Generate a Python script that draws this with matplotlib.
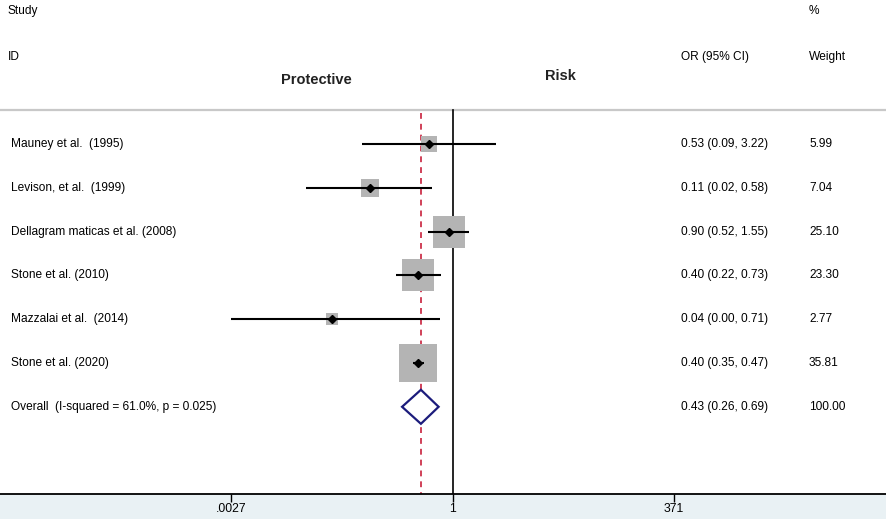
import matplotlib
matplotlib.use("Agg")
import matplotlib.pyplot as plt
import matplotlib.transforms as mtransforms
import numpy as np

plt.rcParams['font.family'] = ['Liberation Sans', 'DejaVu Sans']
plt.rcParams['text.kerning_factor'] = 30
plt.rcParams['text.hinting'] = 'force_autohint'

# ---- data ----
studies = ["Mauney et al.  (1995)", "Levison, et al.  (1999)",
           "Dellagram maticas et al. (2008)", "Stone et al. (2010)",
           "Mazzalai et al.  (2014)", "Stone et al. (2020)"]
or_vals = [0.53, 0.11, 0.90, 0.40, 0.04, 0.40]
ci_low = [0.09, 0.02, 0.52, 0.22, 0.0027, 0.35]
ci_high = [3.22, 0.58, 1.55, 0.73, 0.71, 0.47]
or_text = ["0.53 (0.09, 3.22)", "0.11 (0.02, 0.58)", "0.90 (0.52, 1.55)",
           "0.40 (0.22, 0.73)", "0.04 (0.00, 0.71)", "0.40 (0.35, 0.47)"]
weights = [5.99, 7.04, 25.10, 23.30, 2.77, 35.81]
weight_text = ["5.99", "7.04", "25.10", "23.30", "2.77", "35.81"]

overall_label = "Overall  (I-squared = 61.0%, p = 0.025)"
overall_or = 0.43
overall_low = 0.26
overall_high = 0.69
overall_text = "0.43 (0.26, 0.69)"
overall_weight = "100.00"

tick_vals = [0.0027, 1, 371]
tick_labels = [".0027", "1", "371"]

# ---- layout ----
W, H = 886, 519
dpi = 100
fig = plt.figure(figsize=(W / dpi, H / dpi), dpi=dpi)
fig.patch.set_facecolor('#e9f1f4')

axis_px = 494  # pixel row of bottom axis line
ax = fig.add_axes([0, (H - axis_px) / H, 1, axis_px / H])
ax.set_facecolor('white')
ax.set_xscale('log')
ppd = 86.2
cx = 452.5
ax.set_xlim(10 ** (-cx / ppd), 10 ** ((W - cx) / ppd))

row0 = 144.0
rstep = 43.8
ax.set_ylim((axis_px - row0) / rstep, -row0 / rstep)

def py(p):
    return (p - row0) / rstep

for s in ['top', 'right', 'left']:
    ax.spines[s].set_visible(False)
ax.spines['bottom'].set_linewidth(1.3)
ax.spines['bottom'].set_color('black')
ax.set_yticks([])
ax.set_xticks(tick_vals)
ax.set_xticklabels(tick_labels)
ax.xaxis.set_minor_locator(matplotlib.ticker.NullLocator())
ax.tick_params(axis='x', direction='out', length=6, width=1, pad=0.5,
               labelsize=8.8, colors='black')

# header separator
ax.axhline(py(110), color='#c8c8c8', lw=1.6, zorder=1)

# reference line at 1 and overall dashed line
ax.plot([1, 1], [py(110), py(axis_px)], color='black', lw=1.2, zorder=2)
ax.plot([overall_or, overall_or], [py(113), py(axis_px)], color='#c8203c',
        lw=1.2, dashes=(3.5, 3), zorder=2)

px2pt = 72 / dpi
n = len(studies)
for i in range(n):
    y = i
    side = (6.35 * np.sqrt(weights[i]) + 0.8) * px2pt
    ax.plot(or_vals[i], y, marker='s', markersize=side, color='#b4b4b4',
            markeredgewidth=0, zorder=3)
    ax.plot([ci_low[i], ci_high[i]], [y, y], color='black', lw=1.5,
            solid_capstyle='butt', zorder=4)
    ax.plot(or_vals[i], y, marker='D', markersize=3.6, color='black', zorder=5)

# overall diamond
yo = n
hh = 17 / rstep
ax.fill([overall_low, overall_or, overall_high, overall_or, overall_low],
        [yo, yo - hh, yo, yo + hh, yo], facecolor='white',
        edgecolor='#1c1c7c', lw=1.6, zorder=4)

# text columns
trans = mtransforms.blended_transform_factory(fig.transFigure, ax.transData)
fs = 8.6
x_lab = 11 / W
x_or = 681 / W
x_w = 809 / W
for i in range(n):
    ax.text(x_lab, i, studies[i], transform=trans, fontsize=fs, va='center', ha='left')
    ax.text(x_or, i, or_text[i], transform=trans, fontsize=fs, va='center', ha='left')
    ax.text(x_w, i, weight_text[i], transform=trans, fontsize=fs, va='center', ha='left')
ax.text(x_lab, yo, overall_label, transform=trans, fontsize=fs, va='center', ha='left')
ax.text(x_or, yo, overall_text, transform=trans, fontsize=fs, va='center', ha='left')
ax.text(x_w, yo, overall_weight, transform=trans, fontsize=fs, va='center', ha='left')

# headers
hfs = 8.6
fig.text(8 / W, 1 - 11 / H, "Study", fontsize=hfs, va='center', ha='left')
fig.text(8 / W, 1 - 57 / H, "ID", fontsize=hfs, va='center', ha='left')
fig.text(809 / W, 1 - 11 / H, "%", fontsize=hfs, va='center', ha='left')
fig.text(809 / W, 1 - 57 / H, "Weight", fontsize=hfs, va='center', ha='left')
fig.text(681 / W, 1 - 57 / H, "OR (95% CI)", fontsize=hfs, va='center', ha='left')
fig.text(316 / W, 1 - 80 / H, "Protective", fontsize=10.5, fontweight='bold',
         color='#222222', va='center', ha='center')
fig.text(560 / W, 1 - 76 / H, "Risk", fontsize=10.5, fontweight='bold',
         color='#222222', va='center', ha='center')

fig.savefig("out.png", dpi=dpi, facecolor=fig.get_facecolor())
